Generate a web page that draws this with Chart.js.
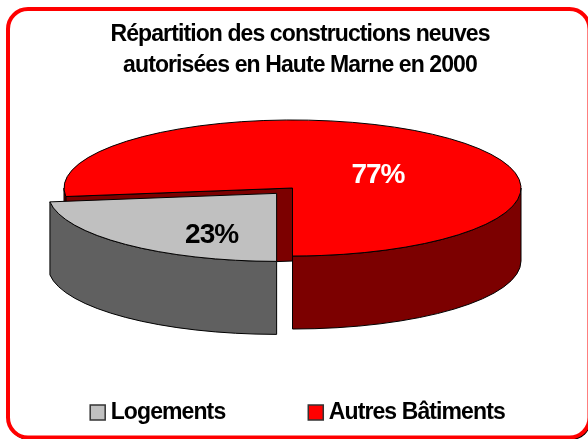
<!DOCTYPE html>
<html>
<head>
<meta charset="utf-8">
<style>html,body{margin:0;padding:0;background:#fff}canvas{display:block}</style>
<script src="https://cdn.jsdelivr.net/npm/chart.js@4"></script>
</head>
<body>
<canvas id="c" width="588" height="439"></canvas>
<script>
const titleLines = ['Répartition des constructions neuves', 'autorisées en Haute Marne en 2000'];
const categories = ['Logements', 'Autres Bâtiments'];
const values = [23, 77];
const topColors = ['#C0C0C0', '#FF0000'];
const wallColors = ['#606060', '#7C0000'];
const labelColors = ['#000000', '#FFFFFF'];
const explode = [96, 0];

const FONT = '"Liberation Sans", Arial, sans-serif';
const TX = 292.5, TY = 188, SQUASH = 0.2977, DEPTH = 73;
const labelShift = [[-65, 42], [85.5, -12.5]];

function spacing(ctx, v) { ctx.letterSpacing = v; }
function centreOf(el) {
  const mid = (el.startAngle + el.endAngle) / 2, d = (el.options.offset || 0) / 4;
  return { x: TX + Math.cos(mid) * d, y: TY + Math.sin(mid) * d * SQUASH };
}
const pie3d = {
  id: 'pie3d',
  beforeLayout(chart) { spacing(chart.ctx, '-0.9px'); },
  beforeDraw(chart) {
    const ctx = chart.ctx;
    spacing(ctx, '-0.9px');
    chart.titleBlock.left = 12; chart.titleBlock.right = 588;
    chart.legend.left = 0; chart.legend.right = 601;
    chart.legend.top = 401 - chart.legend.options.labels.padding;
    ctx.save();
    ctx.fillStyle = '#000';
    ctx.beginPath(); ctx.roundRect(9, 10, 582, 430, 20); ctx.fill();
    ctx.fillStyle = '#fff'; ctx.strokeStyle = '#FF0000'; ctx.lineWidth = 4;
    ctx.beginPath(); ctx.roundRect(8, 9, 581.5, 428.5, 20); ctx.fill(); ctx.stroke();
    ctx.restore();
  },
  beforeDatasetsDraw(chart) {
    const ctx = chart.ctx, arcs = chart.getDatasetMeta(0).data;
    ctx.save();
    ctx.strokeStyle = '#000'; ctx.lineWidth = 1; ctx.lineJoin = 'round';
    for (let i = arcs.length - 1; i >= 0; i--) {
      const el = arcs[i], c = centreOf(el), r = el.outerRadius, ry = r * SQUASH;
      ctx.fillStyle = wallColors[i];
      [[el.startAngle, Math.cos(el.startAngle) < -1e-6], [el.endAngle, Math.cos(el.endAngle) > 1e-6]].forEach(([a, show]) => {
        if (!show) return;
        const px = c.x + Math.cos(a) * r, py = c.y + Math.sin(a) * ry;
        ctx.beginPath(); ctx.moveTo(c.x, c.y); ctx.lineTo(px, py);
        ctx.lineTo(px, py + DEPTH); ctx.lineTo(c.x, c.y + DEPTH); ctx.closePath();
        ctx.fill(); ctx.stroke();
      });
      for (let k = -1; k < 3; k++) {
        const a0 = Math.max(el.startAngle, 2 * Math.PI * k), a1 = Math.min(el.endAngle, 2 * Math.PI * k + Math.PI);
        if (a1 <= a0) continue;
        ctx.beginPath();
        ctx.ellipse(c.x, c.y, r, ry, 0, a0, a1);
        ctx.ellipse(c.x, c.y + DEPTH, r, ry, 0, a1, a0, true);
        ctx.closePath(); ctx.fill(); ctx.stroke();
      }
    }
    ctx.restore();
    const first = arcs[0];
    ctx.save();
    ctx.translate(TX, TY); ctx.scale(1, SQUASH); ctx.translate(-first.x, -first.y);
  },
  afterDatasetsDraw(chart) {
    const ctx = chart.ctx, arcs = chart.getDatasetMeta(0).data;
    ctx.restore();
    ctx.save();
    ctx.strokeStyle = '#000'; ctx.lineWidth = 1; ctx.lineJoin = 'round';
    const total = values.reduce((a, b) => a + b, 0);
    arcs.forEach((el) => {
      const c = centreOf(el), r = el.outerRadius;
      ctx.beginPath(); ctx.moveTo(c.x, c.y);
      ctx.ellipse(c.x, c.y, r, r * SQUASH, 0, el.startAngle, el.endAngle);
      ctx.closePath(); ctx.stroke();
    });
    ctx.font = 'bold 28px ' + FONT; ctx.textAlign = 'center'; ctx.textBaseline = 'middle';
    spacing(ctx, '-1px');
    arcs.forEach((el, i) => {
      const c = centreOf(el);
      ctx.fillStyle = labelColors[i];
      ctx.fillText(Math.round(values[i] / total * 100) + '%', c.x + labelShift[i][0], c.y + labelShift[i][1]);
    });
    spacing(ctx, '-0.9px');
    ctx.restore();
  }
};

new Chart(document.getElementById('c'), {
  type: 'pie',
  data: {
    labels: categories,
    datasets: [{ data: values, backgroundColor: topColors, borderWidth: 0, offset: explode, clip: false, radius: 228.5, rotation: 180 }]
  },
  plugins: [pie3d],
  options: {
    responsive: false,
    animation: false,
    events: [],
    radius: 228.5,
    rotation: 180,
    layout: { padding: { left: -15, right: -15 } },
    plugins: {
      tooltip: { enabled: false },
      title: {
        display: true, text: titleLines, color: '#000',
        font: { family: FONT, size: 23, weight: 'bold', lineHeight: 1.35 },
        padding: { top: 19, bottom: 6 }
      },
      legend: {
        position: 'bottom',
        labels: {
          color: '#000',
          font: { family: FONT, size: 23, weight: 'bold' },
          usePointStyle: true, pointStyle: 'rect',
          boxWidth: 3, boxHeight: 15, padding: 89,
          generateLabels(chart) {
            return Chart.overrides.pie.plugins.legend.labels.generateLabels(chart).map(it => {
              it.strokeStyle = '#333'; it.lineWidth = 1.5; return it;
            });
          }
        }
      }
    }
  }
});
</script>
</body>
</html>
